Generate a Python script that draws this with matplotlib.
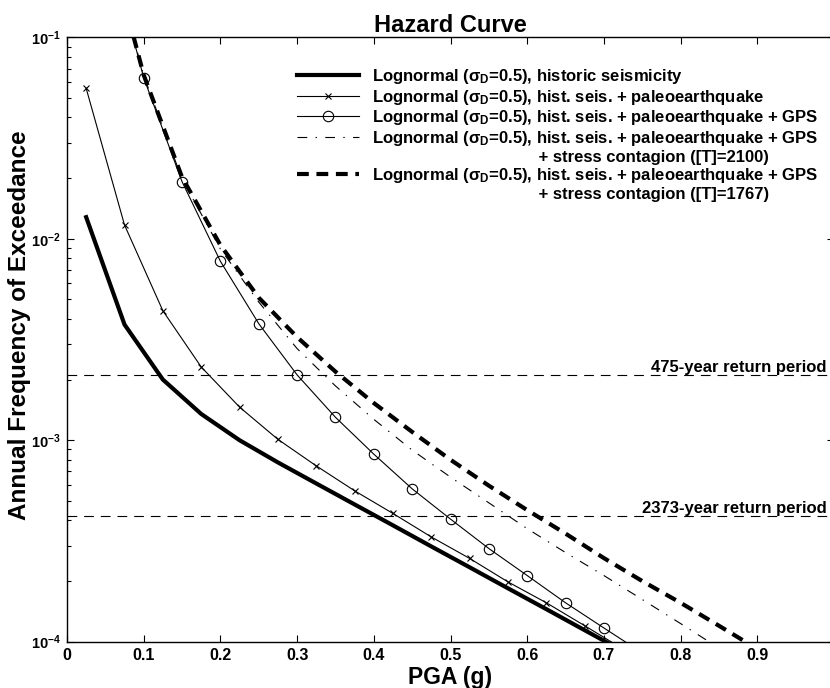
import matplotlib
matplotlib.use('Agg')
import matplotlib.pyplot as plt
from matplotlib.lines import Line2D
from matplotlib.ticker import FixedLocator, LogLocator, FuncFormatter, NullFormatter
import numpy as np

plt.rcParams['font.family'] = ['Liberation Sans', 'DejaVu Sans']
plt.rcParams['font.weight'] = 'bold'
plt.rcParams['mathtext.fontset'] = 'custom'
plt.rcParams['mathtext.rm'] = 'Liberation Sans:bold'
plt.rcParams['mathtext.it'] = 'Liberation Sans:bold'
plt.rcParams['mathtext.bf'] = 'Liberation Sans:bold'
plt.rcParams['mathtext.default'] = 'rm'
plt.rcParams['lines.scale_dashes'] = False

# PGA (g) sample points
pga_a = [0.025, 0.075, 0.125, 0.175, 0.225, 0.275, 0.325, 0.375, 0.425, 0.475,
         0.525, 0.575, 0.625, 0.675, 0.725]
pga_b = [0.05, 0.10, 0.15, 0.20, 0.25, 0.30, 0.35, 0.40, 0.45, 0.50, 0.55, 0.60,
         0.65, 0.70, 0.75, 0.80, 0.85, 0.90]

# annual frequency of exceedance
hist_seis = [1.28e-2, 3.75e-3, 2.0e-3, 1.35e-3, 1.0e-3, 7.76e-4, 6.1e-4, 4.8e-4,
             3.78e-4, 2.97e-4, 2.34e-4, 1.84e-4, 1.45e-4, 1.14e-4, 8.97e-5]
paleo = [5.58e-2, 1.17e-2, 4.39e-3, 2.31e-3, 1.46e-3, 1.01e-3, 7.46e-4, 5.61e-4,
         4.33e-4, 3.31e-4, 2.59e-4, 1.98e-4, 1.56e-4, 1.20e-4, 9.2e-5]
gps = [0.33, 6.3e-2, 1.92e-2, 7.73e-3, 3.79e-3, 2.11e-3, 1.30e-3, 8.53e-4, 5.74e-4,
       4.06e-4, 2.90e-4, 2.13e-4, 1.56e-4, 1.17e-4, 8.8e-5]
stress_2100 = [0.33, 6.45e-2, 1.98e-2, 8.9e-3, 4.85e-3, 2.85e-3, 1.86e-3, 1.27e-3,
               8.93e-4, 6.56e-4, 4.89e-4, 3.64e-4, 2.77e-4, 2.13e-4, 1.62e-4,
               1.23e-4, 9.3e-5]
stress_1767 = [0.34, 6.5e-2, 2.02e-2, 9.3e-3, 5.1e-3, 3.25e-3, 2.19e-3, 1.53e-3,
               1.10e-3, 8.0e-4, 5.95e-4, 4.5e-4, 3.44e-4, 2.6e-4, 2.0e-4, 1.56e-4,
               1.2e-4, 9.2e-5]

return_periods = [475, 2373]

labels = [r'Lognormal ($\sigma_\mathrm{D}$=0.5), historic seismicity',
          r'Lognormal ($\sigma_\mathrm{D}$=0.5), hist. seis. + paleoearthquake',
          r'Lognormal ($\sigma_\mathrm{D}$=0.5), hist. seis. + paleoearthquake + GPS',
          r'Lognormal ($\sigma_\mathrm{D}$=0.5), hist. seis. + paleoearthquake + GPS',
          r'Lognormal ($\sigma_\mathrm{D}$=0.5), hist. seis. + paleoearthquake + GPS']
second_lines = ['+ stress contagion ([T]=2100)', '+ stress contagion ([T]=1767)']

fig = plt.figure(figsize=(8.3, 6.88), dpi=100)
ax = fig.add_axes([67/830, 46.3/688, 767/830, 604.4/688])

h1, = ax.plot(pga_a, hist_seis, 'k-', lw=3)
h2, = ax.plot(pga_a, paleo, 'k-', lw=0.8, marker='x', ms=5, mew=0.8)
h3, = ax.plot(pga_b[:len(gps)], gps, 'k-', lw=0.8, marker='o', ms=7.5, mfc='none', mew=0.8)
h4, = ax.plot(pga_b[:len(stress_2100)], stress_2100, 'k', lw=0.8, dashes=(7, 6, 1, 6))
h5, = ax.plot(pga_b, stress_1767, 'k', lw=3, dashes=(8.5, 5.5))

for rp in return_periods:
    ax.axhline(1.0/rp, color='k', lw=0.8, dashes=(7, 5))
    ax.text(0.99, 1.0/rp, '%d-year return period' % rp, ha='right', va='bottom',
            fontsize=12, fontweight='bold')

ax.set_xlim(0, 1)
ax.set_yscale('log')
ax.set_ylim(1e-4, 1e-1)

ax.xaxis.set_major_locator(FixedLocator(np.arange(0, 1.01, 0.1)))
ax.xaxis.set_major_formatter(FuncFormatter(lambda v, p: '%g' % round(v, 2)))
ax.yaxis.set_major_locator(LogLocator(base=10, numticks=10))
ax.yaxis.set_minor_locator(LogLocator(base=10, subs=np.arange(2, 10), numticks=10))
ax.yaxis.set_major_formatter(FuncFormatter(lambda v, p: r'$10^{%d}$' % round(np.log10(v))))
ax.yaxis.set_minor_formatter(NullFormatter())
ax.tick_params(which='both', direction='in', top=True, right=True, width=0.8)
ax.tick_params(which='major', length=5)
ax.tick_params(which='minor', length=3)
ax.tick_params(axis='x', labelsize=11.5, pad=4.5)
ax.tick_params(axis='y', labelsize=10.5, pad=4.5)
for s in ax.spines.values():
    s.set_linewidth(1.0)

ax.set_title('Hazard Curve', fontsize=17, fontweight='bold', pad=4)
ax.set_xlabel('PGA (g)', fontsize=16.5, fontweight='bold', labelpad=2)
ax.set_ylabel('Annual Frequency of Exceedance', fontsize=17.5, fontweight='bold')
ax.yaxis.set_label_coords(-0.047, 0.524)

blank = Line2D([], [], linestyle='none')
pad = ' ' * 36
handles = [h1, h2, h3, h4, blank, h5, blank]
leg_labels = [labels[0], labels[1], labels[2], labels[3], pad + second_lines[0],
              labels[4], pad + second_lines[1]]
ax.legend(handles, leg_labels, loc='upper left', bbox_to_anchor=(0.2999, 0.951),
          frameon=False, borderpad=0, borderaxespad=0,
          handlelength=3.7, handletextpad=0.8, labelspacing=0.1,
          prop={'weight': 'bold', 'size': 12})

fig.savefig('out.png', dpi=100)
